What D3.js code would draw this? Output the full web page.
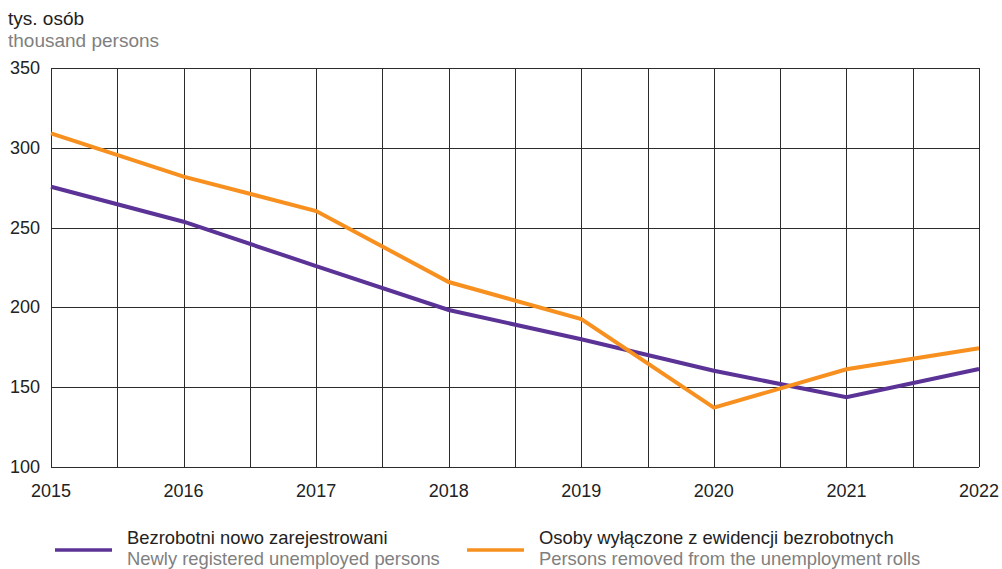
<!DOCTYPE html>
<html><head><meta charset="utf-8">
<script src="https://cdn.jsdelivr.net/npm/d3@7"></script>
<style>body{margin:0;background:#fff}svg{display:block}text{font-family:"Liberation Sans",Arial,sans-serif}</style>
</head><body>
<svg id="c" width="1002" height="569"></svg>
<script>
const years = [2015, 2016, 2017, 2018, 2019, 2020, 2021, 2022];
const registered = [275.6, 253.7, 225.9, 198.4, 180.0, 160.3, 143.7, 161.4];
const removed = [309.1, 281.9, 260.4, 215.9, 192.7, 137.2, 161.2, 174.4];
const yTicks = [100, 150, 200, 250, 300, 350];
const seriesNamesPL = ["Bezrobotni nowo zarejestrowani", "Osoby wyłączone z ewidencji bezrobotnych"];
const seriesNamesEN = ["Newly registered unemployed persons", "Persons removed from the unemployment rolls"];
const colors = ["#5b3397", "#f7901e"];

const svg = d3.select("#c");
const x = d3.scaleLinear().domain([2015, 2022]).range([51, 979]);
const y = d3.scaleLinear().domain([100, 350]).range([467, 68]);

const halfSteps = d3.range(2015, 2022.01, 0.5);
svg.append("g").selectAll("line").data(halfSteps).join("line")
  .attr("x1", d => Math.round(x(d)) + 0.5).attr("x2", d => Math.round(x(d)) + 0.5)
  .attr("y1", y(350)).attr("y2", y(100))
  .attr("stroke", "#2b2b2b").attr("stroke-width", 1);
svg.append("g").selectAll("line").data(yTicks).join("line")
  .attr("x1", x(2015)).attr("x2", x(2022))
  .attr("y1", d => Math.round(y(d)) + 0.5).attr("y2", d => Math.round(y(d)) + 0.5)
  .attr("stroke", "#2b2b2b").attr("stroke-width", 1);

svg.append("g").selectAll("text").data(yTicks).join("text")
  .attr("x", 40).attr("y", d => y(d) + 6)
  .attr("text-anchor", "end").attr("font-size", 18).attr("fill", "#222")
  .text(d => d);
svg.append("g").selectAll("text").data(years).join("text")
  .attr("x", d => x(d)).attr("y", 497)
  .attr("text-anchor", "middle").attr("font-size", 18).attr("fill", "#222")
  .text(d => d);

svg.append("text").attr("x", 8).attr("y", 25).attr("font-size", 19).attr("fill", "#222").text("tys. osób");
svg.append("text").attr("x", 8).attr("y", 47).attr("font-size", 19).attr("fill", "#808080").text("thousand persons");

const line = d3.line().x((d, i) => x(years[i])).y(d => y(d));
[registered, removed].forEach((s, k) => {
  svg.append("path").datum(s).attr("d", line)
    .attr("fill", "none").attr("stroke", colors[k]).attr("stroke-width", 4)
    .attr("stroke-linejoin", "miter");
});

const legX = [55, 467];
const legTextX = [127, 539];
[0, 1].forEach(k => {
  svg.append("line").attr("x1", legX[k]).attr("x2", legX[k] + 57)
    .attr("y1", 550).attr("y2", 550).attr("stroke", colors[k]).attr("stroke-width", 3.5);
  svg.append("text").attr("x", legTextX[k]).attr("y", 543.5).attr("font-size", 18.4).attr("fill", "#222").text(seriesNamesPL[k]);
  svg.append("text").attr("x", legTextX[k]).attr("y", 564.5).attr("font-size", 18.4).attr("fill", "#808080").text(seriesNamesEN[k]);
});
</script>
</body></html>
